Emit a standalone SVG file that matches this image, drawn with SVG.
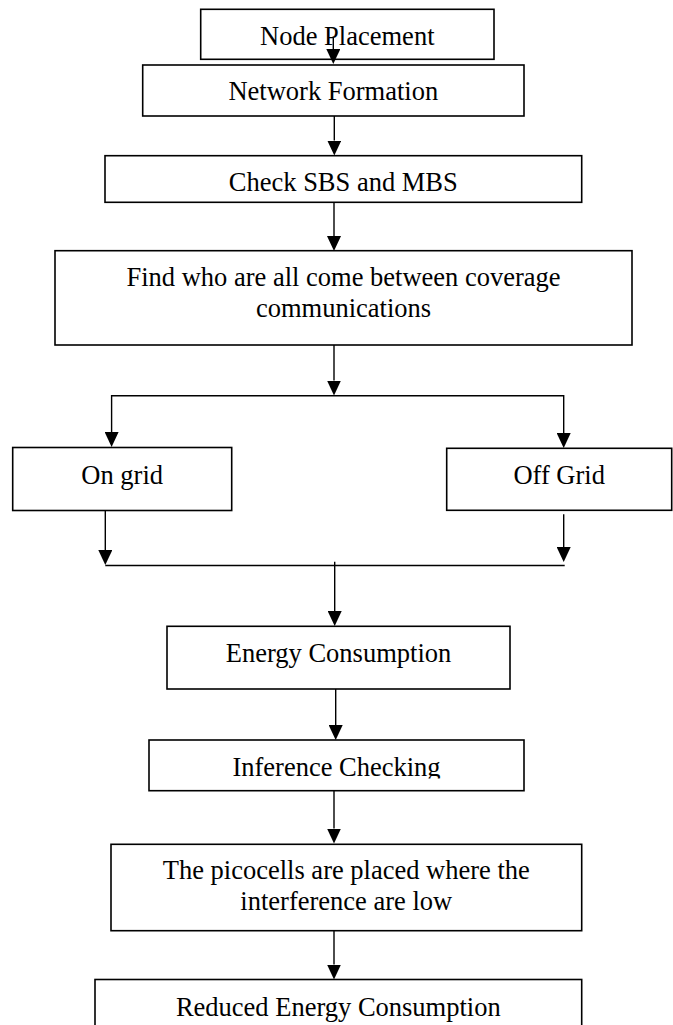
<svg xmlns="http://www.w3.org/2000/svg" width="673" height="1025" viewBox="0 0 673 1025">
<style>
.box{fill:#fff;stroke:#000;stroke-width:1.6}
.lbl{font-family:"Liberation Serif","Times New Roman",serif;font-size:26.5px;fill:#000;text-anchor:middle}
.con{stroke:#000;stroke-width:1.4;fill:none}
</style>
<defs>
<marker id="ah" markerUnits="userSpaceOnUse" viewBox="0 0 15 14" refX="0" refY="7" markerWidth="15" markerHeight="14" orient="auto">
<path d="M0,0 L15,7 L0,14 Z" fill="#000"/>
</marker>
<clipPath id="clipInf"><rect x="149" y="740" width="375" height="38.5"/></clipPath>
</defs>
<rect x="0" y="0" width="673" height="1025" fill="#fff"/>
<g id="node-placement"><rect class="box" x="200.7" y="9.3" width="293.3" height="50"/><text class="lbl" x="347.3" y="45">Node Placement</text></g>
<g id="network-formation"><rect class="box" x="142.7" y="65" width="381.3" height="51"/><text class="lbl" x="333.3" y="100">Network Formation</text></g>
<g id="check-sbs-mbs"><rect class="box" x="105" y="155.7" width="476.7" height="46.6"/><text class="lbl" x="343.3" y="190.7">Check SBS and MBS</text></g>
<g id="find-coverage"><rect class="box" x="55" y="250.7" width="577" height="94.3"/><text class="lbl" x="343.5" y="285.5">Find who are all come between coverage</text><text class="lbl" x="343.5" y="317">communications</text></g>
<g id="on-grid"><rect class="box" x="12.7" y="447.5" width="219" height="63"/><text class="lbl" x="122.2" y="484">On grid</text></g>
<g id="off-grid"><rect class="box" x="446.7" y="448.3" width="225" height="62"/><text class="lbl" x="559.2" y="484">Off Grid</text></g>
<g id="energy-consumption"><rect class="box" x="167" y="626.3" width="343" height="62.7"/><text class="lbl" x="338.5" y="661.7">Energy Consumption</text></g>
<g id="inference-checking"><rect class="box" x="149" y="740" width="375" height="50.7"/><text class="lbl" x="336.5" y="775.7" clip-path="url(#clipInf)">Inference Checking</text></g>
<g id="picocells"><rect class="box" x="111" y="844.3" width="470.7" height="86.4"/><text class="lbl" x="346.3" y="879.3">The picocells are placed where the</text><text class="lbl" x="346.3" y="910">interference are low</text></g>
<g id="reduced-energy"><rect class="box" x="95" y="979.5" width="486.7" height="60"/><text class="lbl" x="338.3" y="1015.5">Reduced Energy Consumption</text></g>
<g id="connectors">
<line class="con" x1="333.3" y1="36.7" x2="333.3" y2="49" marker-end="url(#ah)"/>
<line class="con" x1="334.3" y1="116" x2="334.3" y2="140.5" marker-end="url(#ah)"/>
<line class="con" x1="334" y1="202.3" x2="334" y2="236" marker-end="url(#ah)"/>
<line class="con" x1="334" y1="345" x2="334" y2="380.5" marker-end="url(#ah)"/>
<line class="con" x1="111.6" y1="395.7" x2="563.7" y2="395.7"/>
<line class="con" x1="111.6" y1="395" x2="111.6" y2="432" marker-end="url(#ah)"/>
<line class="con" x1="563.7" y1="395" x2="563.7" y2="433" marker-end="url(#ah)"/>
<line class="con" x1="105.3" y1="510.3" x2="105.3" y2="550" marker-end="url(#ah)"/>
<line class="con" x1="563.7" y1="514.3" x2="563.7" y2="547" marker-end="url(#ah)"/>
<line class="con" x1="105.3" y1="565.5" x2="564.7" y2="565.5"/>
<line class="con" x1="334.7" y1="561.7" x2="334.7" y2="611" marker-end="url(#ah)"/>
<line class="con" x1="335.7" y1="689" x2="335.7" y2="725" marker-end="url(#ah)"/>
<line class="con" x1="334" y1="790.7" x2="334" y2="828.5" marker-end="url(#ah)"/>
<line class="con" x1="334" y1="930.7" x2="334" y2="964.5" marker-end="url(#ah)"/>
</g>
</svg>
